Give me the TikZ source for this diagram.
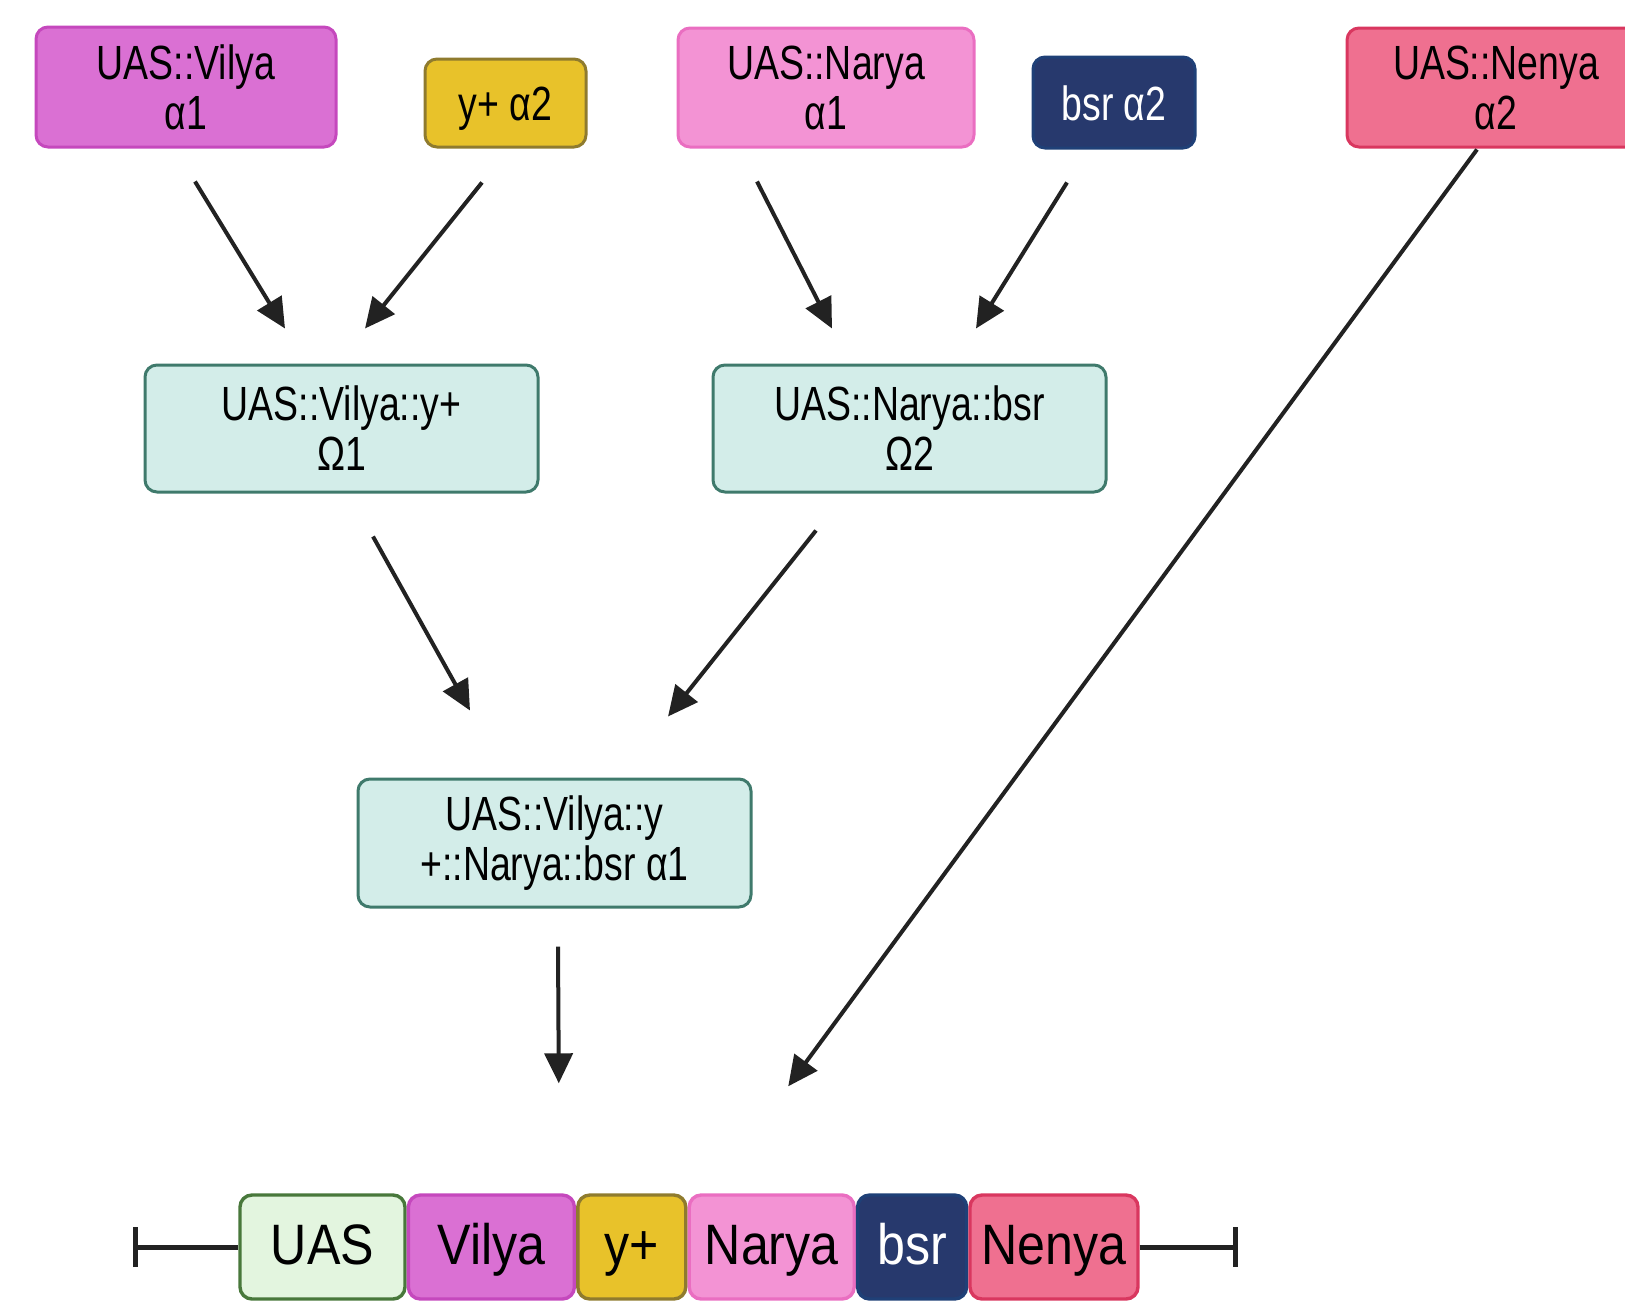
\documentclass[tikz,border=0pt]{standalone}
\usepackage{fontspec}
\setmainfont{Liberation Sans}[FakeStretch=0.78]
\newfontfamily\genefont{Liberation Sans}[FakeStretch=0.88]
\usetikzlibrary{arrows.meta, positioning, calc}

\definecolor{vilyafill}{HTML}{DA70D3}
\definecolor{vilyaline}{HTML}{C548BD}
\definecolor{yfill}{HTML}{E8C22A}
\definecolor{yline}{HTML}{8F7B2E}
\definecolor{naryafill}{HTML}{F393D4}
\definecolor{naryaline}{HTML}{EA6EC1}
\definecolor{bsrfill}{HTML}{27396D}
\definecolor{bsrline}{HTML}{1F4077}
\definecolor{nenyafill}{HTML}{EF7090}
\definecolor{nenyaline}{HTML}{D9375F}
\definecolor{tealfill}{HTML}{D3EDE9}
\definecolor{tealline}{HTML}{3F7A6C}
\definecolor{uasfill}{HTML}{E3F5DF}
\definecolor{uasline}{HTML}{48783B}
\definecolor{arrowgray}{HTML}{222222}

\begin{document}
\begin{tikzpicture}[x=0.5pt, y=-0.5pt,
    box/.style = {draw, line width=1.5pt, rounded corners=6pt, align=center, inner sep=2pt,
      font=\fontsize{24}{25}\selectfont},
    oneline/.style = {text height=17.5pt, text depth=0pt},
    gene/.style = {draw, line width=1.7pt, rounded corners=6pt, minimum height=52pt, inner sep=0pt,
      text height=21pt, text depth=4pt, font=\genefont\fontsize{28.5}{30}\selectfont},
    arr/.style = {line width=2pt, draw=arrowgray, -{Triangle[length=15pt, width=14pt]}}]
    \useasboundingbox (0,0) rectangle (1625,1301);

    % single-transgene parents
    \node[box, fill=vilyafill, draw=vilyaline, minimum width=150pt, minimum height=60pt] (vilya) at (186,87) {UAS::Vilya\\α1};
    \node[box, oneline, fill=yfill, draw=yline, minimum width=80.5pt, minimum height=44pt] (ytwo) at (505.5,103) {y+ α2};
    \node[box, fill=naryafill, draw=naryaline, minimum width=148pt, minimum height=59.5pt] (narya) at (826,87.5) {UAS::Narya\\α1};
    \node[box, oneline, fill=bsrfill, draw=bsrline, text=white, minimum width=81pt, minimum height=45.5pt] (bsrtwo) at (1114,102.5) {bsr α2};
    \node[box, fill=nenyafill, draw=nenyaline, minimum width=149pt, minimum height=59.5pt] (nenya) at (1496,87.5) {UAS::Nenya\\α2};

    % recombinants
    \node[box, fill=tealfill, draw=tealline, minimum width=196.5pt, minimum height=63.5pt] (omegaone) at (341.5,428.5) {UAS::Vilya::y+\\Ω1};
    \node[box, fill=tealfill, draw=tealline, minimum width=196.5pt, minimum height=63.5pt] (omegatwo) at (909.5,428.5) {UAS::Narya::bsr\\Ω2};
    \node[box, fill=tealfill, draw=tealline, minimum width=196.5pt, minimum height=64pt] (combo) at (554.5,843) {UAS::Vilya::y\\+::Narya::bsr α1};

    % final construct
    \node[gene, fill=uasfill, draw=uasline, minimum width=82.5pt] (uas) at (322.5,1247) {UAS};
    \node[gene, fill=vilyafill, draw=vilyaline, minimum width=83pt, right=0pt of uas] (vil) {Vilya};
    \node[gene, fill=yfill, draw=yline, minimum width=54pt, right=0pt of vil] (yp) {y+};
    \node[gene, fill=naryafill, draw=naryaline, minimum width=82.5pt, right=0pt of yp] (nar) {Narya};
    \node[gene, fill=bsrfill, draw=bsrline, text=white, minimum width=54.5pt, right=0pt of nar] (bsr) {bsr};
    \node[gene, fill=nenyafill, draw=nenyaline, minimum width=84pt, right=0pt of bsr] (nen) {Nenya};
    \coordinate (lend) at (133,1247);
    \coordinate (rend) at (1238,1247);
    \draw[line width=2.5pt, draw=arrowgray, {Bar[width=20pt]}-] (lend) -- (uas);
    \draw[line width=2.5pt, draw=arrowgray, -{Bar[width=20pt]}] (nen) -- (rend);

    % crosses
    \draw[arr] ($(vilya.south)+(9,33)$) -- ($(omegaone.north)+(-56.5,-35)$);
    \draw[arr] ($(ytwo.south)+(-23.5,34)$) -- ($(omegaone.north)+(23.5,-35)$);
    \draw[arr] ($(narya.south)+(-69,33)$) -- ($(omegatwo.north)+(-77.5,-35)$);
    \draw[arr] ($(bsrtwo.south)+(-47,33)$) -- ($(omegatwo.north)+(66.5,-35)$);
    \draw[arr] ($(omegaone.south)+(31.5,43)$) -- ($(combo.north)+(-84.5,-67)$);
    \draw[arr] ($(omegatwo.south)+(-93.5,37)$) -- ($(combo.north)+(113.5,-61)$);
    \draw[arr] ($(combo.south)+(3.5,38)$) -- ($(yp.north)+(-73,-110)$);
    \draw[arr] ($(nenya.south)+(-19,1)$) -- ($(nar.north)+(16.5,-107)$);
\end{tikzpicture}
\end{document}
